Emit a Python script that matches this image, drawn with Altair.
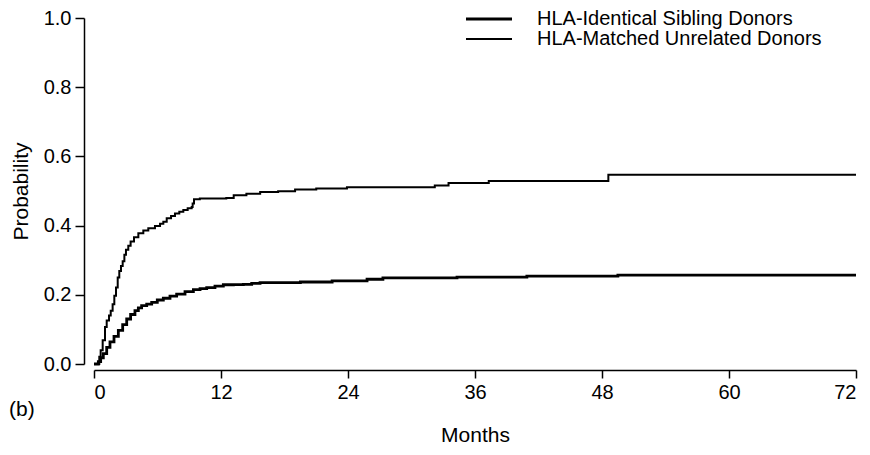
import altair as alt
import pandas as pd

# Cumulative incidence step curves
unrel_t = [0, 0.25, 0.50, 0.63, 0.82, 1.04, 1.20, 1.42, 1.58, 1.76, 1.92, 2.08, 2.24, 2.39,
           2.55, 2.71, 2.87, 3.02, 3.24, 3.46, 3.78, 4.19, 4.66, 5.13, 5.76, 6.24, 6.55,
           6.87, 7.28, 7.65, 8.06, 8.44, 8.85, 9.23, 9.32, 9.45, 10.0, 12.5, 13.2, 14.4,
           15.7, 17.4, 19.0, 21.0, 23.9, 32.2, 33.5, 37.3, 48.6, 72]
unrel_p = [0, 0, 0.021, 0.040, 0.069, 0.107, 0.126, 0.140, 0.154, 0.173, 0.197, 0.221, 0.250,
           0.269, 0.283, 0.297, 0.316, 0.330, 0.342, 0.354, 0.366, 0.378, 0.386, 0.392, 0.399,
           0.405, 0.411, 0.421, 0.428, 0.435, 0.440, 0.445, 0.450, 0.454, 0.464, 0.476, 0.478,
           0.480, 0.488, 0.492, 0.497, 0.499, 0.504, 0.507, 0.511, 0.516, 0.523, 0.529, 0.547,
           0.547]

sib_t = [0, 0.09, 0.41, 0.63, 0.88, 1.20, 1.51, 1.89, 2.30, 2.71, 3.09, 3.46, 3.87, 4.19,
         4.50, 4.98, 5.45, 5.98, 6.55, 7.18, 7.81, 8.60, 9.39, 10.02, 10.65, 11.43, 12.22,
         13.17, 14.11, 14.90, 15.69, 19.5, 22.5, 25.8, 27.3, 34.3, 40.9, 49.5, 72]
sib_p = [0, 0, 0.007, 0.018, 0.030, 0.048, 0.064, 0.080, 0.097, 0.114, 0.130, 0.143, 0.154,
         0.162, 0.169, 0.173, 0.178, 0.185, 0.190, 0.196, 0.202, 0.209, 0.215, 0.218, 0.221,
         0.225, 0.229, 0.2295, 0.230, 0.233, 0.235, 0.237, 0.240, 0.245, 0.249, 0.251, 0.254,
         0.257, 0.257]

series_names = ["HLA-Identical Sibling Donors", "HLA-Matched Unrelated Donors"]
x_ticks = [0, 12, 24, 36, 48, 60, 72]
y_ticks = [0.0, 0.2, 0.4, 0.6, 0.8, 1.0]
panel_label = ["(b)"]

df = pd.concat([
    pd.DataFrame({"Months": sib_t, "Probability": sib_p, "Group": series_names[0]}),
    pd.DataFrame({"Months": unrel_t, "Probability": unrel_p, "Group": series_names[1]}),
])
legend_df = pd.DataFrame({"Group": series_names})

FONT = "Liberation Sans"
FS_TICK = 20
FS_TEXT = 21
FS_LEGEND = 20

width_scale = alt.Scale(domain=series_names, range=[2.8, 2.0])
legend_y = alt.Y("Group:N", axis=None,
                 scale=alt.Scale(type="point", domain=series_names, range=[1, 21], padding=0))

lines = alt.Chart(df).mark_line(interpolate="step-after", color="black").encode(
    x=alt.X("Months:Q",
            scale=alt.Scale(domain=[0, 72], nice=False, zero=False),
            axis=alt.Axis(values=x_ticks, title="Months", offset=6, tickSize=8,
                          labelPadding=4, titlePadding=22, grid=False)),
    y=alt.Y("Probability:Q",
            scale=alt.Scale(domain=[0, 1], nice=False),
            axis=alt.Axis(values=y_ticks, format=".1f", title="Probability", offset=10,
                          tickSize=9, labelPadding=4, titlePadding=12, grid=False)),
    strokeWidth=alt.StrokeWidth("Group:N", scale=width_scale, legend=None),
    detail="Group:N",
    order="Months:Q",
)

legend_lines = alt.Chart(legend_df).mark_rule(color="black").encode(
    x=alt.value(372), x2=alt.value(418), y=legend_y,
    strokeWidth=alt.StrokeWidth("Group:N", scale=width_scale, legend=None),
)
legend_text = alt.Chart(legend_df).mark_text(
    align="left", baseline="middle", font=FONT, fontSize=FS_LEGEND, color="black"
).encode(x=alt.value(443), y=legend_y, text="Group:N")

label = alt.Chart(pd.DataFrame({"t": panel_label})).mark_text(
    align="left", baseline="middle", font=FONT, fontSize=FS_TEXT, color="black"
).encode(x=alt.value(-85), y=alt.value(392), text="t:N")

chart = alt.layer(lines, legend_lines, legend_text, label).resolve_scale(
    y="independent"
).properties(
    width=762, height=346,
    autosize=alt.AutoSizeParams(type="none"),
    padding={"left": 86, "top": 10, "right": 6, "bottom": 83},
).configure_view(stroke=None).configure_axis(
    labelFont=FONT, titleFont=FONT, labelFontSize=FS_TICK, titleFontSize=FS_TEXT,
    labelColor="black", titleColor="black", titleFontWeight="normal",
    domainColor="black", tickColor="black", domainWidth=1.5, tickWidth=1.5,
)

chart.save("out.html", embed_options={"renderer": "svg", "actions": False})
